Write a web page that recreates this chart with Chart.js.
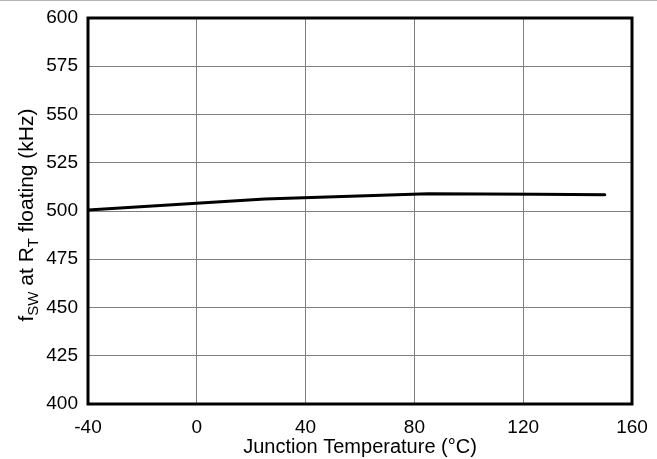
<!DOCTYPE html>
<html lang="en">
<head>
    <meta charset="UTF-8">
    <title>fSW vs Junction Temperature</title>
    <script src="https://cdn.jsdelivr.net/npm/chart.js"></script>
    <style>
        body { margin: 0; background: #fff; }
        #wrap { position: relative; width: 657px; height: 459px; }
    </style>
</head>
<body>
    <div id="wrap">
        <canvas id="fswChart" width="657" height="459"></canvas>
    </div>

    <script>
        // junction temperature (°C) and switching frequency (kHz)
        var tempC = [-40, 25, 85, 125, 150];
        var fswKHz = [500.5, 506.2, 509.0, 508.7, 508.4];

        var xTicks = [-40, 0, 40, 80, 120, 160];
        var yTicks = [400, 425, 450, 475, 500, 525, 550, 575, 600];

        var FONT = "Arial, 'Liberation Sans', sans-serif";

        // frame around the plot, the grey rule at the very top, and the
        // rotated y title with its subscripts
        var framePlugin = {
            id: "frame",
            beforeDraw: function(chart) {
                var ctx = chart.ctx;
                ctx.save();
                ctx.fillStyle = "#b4b4b4";
                ctx.fillRect(0, 0, chart.width, 1);
                ctx.restore();
            },
            afterDraw: function(chart) {
                var ctx = chart.ctx;
                var a = chart.chartArea;
                ctx.save();
                ctx.strokeStyle = "#000";
                ctx.lineWidth = 3;
                ctx.strokeRect(a.left, a.top, a.right - a.left, a.bottom - a.top);

                var parts = [
                    { t: "f", size: 21, dy: 0 },
                    { t: "SW", size: 15, dy: 5 },
                    { t: " at R", size: 21, dy: 0 },
                    { t: "T", size: 15, dy: 5 },
                    { t: " floating (kHz)", size: 21, dy: 0 }
                ];
                var total = 0;
                parts.forEach(function(p) {
                    ctx.font = p.size + "px " + FONT;
                    p.w = ctx.measureText(p.t).width;
                    total += p.w;
                });
                ctx.translate(33, 215);
                ctx.rotate(-Math.PI / 2);
                ctx.fillStyle = "#000";
                ctx.textBaseline = "alphabetic";
                ctx.textAlign = "left";
                var x = -total / 2;
                parts.forEach(function(p) {
                    ctx.font = p.size + "px " + FONT;
                    ctx.fillText(p.t, x, p.dy);
                    x += p.w;
                });
                ctx.restore();
            }
        };

        // keep the plot box fixed: no extra room for overhanging edge labels
        function noOverhang(s) {
            s.paddingLeft = 0;
            s.paddingRight = 0;
            s.paddingTop = 0;
            s.paddingBottom = 0;
        }

        new Chart(document.getElementById("fswChart"), {
            type: "line",
            data: {
                datasets: [{
                    data: tempC.map(function(t, i) { return { x: t, y: fswKHz[i] }; }),
                    borderColor: "#000",
                    borderWidth: 3,
                    borderCapStyle: "round",
                    pointRadius: 0,
                    tension: 0,
                    fill: false
                }]
            },
            options: {
                responsive: false,
                animation: false,
                devicePixelRatio: 1,
                layout: { padding: { left: 0, top: 18, right: 25, bottom: 0 } },
                plugins: { legend: { display: false }, tooltip: { enabled: false } },
                scales: {
                    x: {
                        type: "linear",
                        min: -40,
                        max: 160,
                        afterBuildTicks: function(s) { s.ticks = xTicks.map(function(v) { return { value: v }; }); },
                        afterFit: function(s) { s.height = 55; noOverhang(s); },
                        grid: { color: "#808080", lineWidth: 1, drawTicks: false },
                        border: { display: false },
                        ticks: { color: "#000", font: { family: FONT, size: 19 }, padding: 12, maxRotation: 0 },
                        title: {
                            display: true,
                            text: "Junction Temperature (°C)",
                            color: "#000",
                            font: { family: FONT, size: 20 },
                            padding: { top: 0, bottom: 0 }
                        }
                    },
                    y: {
                        min: 400,
                        max: 600,
                        afterBuildTicks: function(s) { s.ticks = yTicks.map(function(v) { return { value: v }; }); },
                        afterFit: function(s) { s.width = 88; noOverhang(s); },
                        grid: { color: "#808080", lineWidth: 1, drawTicks: false },
                        border: { display: false },
                        ticks: { color: "#000", font: { family: FONT, size: 19 }, padding: 10 }
                    }
                }
            },
            plugins: [framePlugin]
        });
    </script>
</body>
</html>
